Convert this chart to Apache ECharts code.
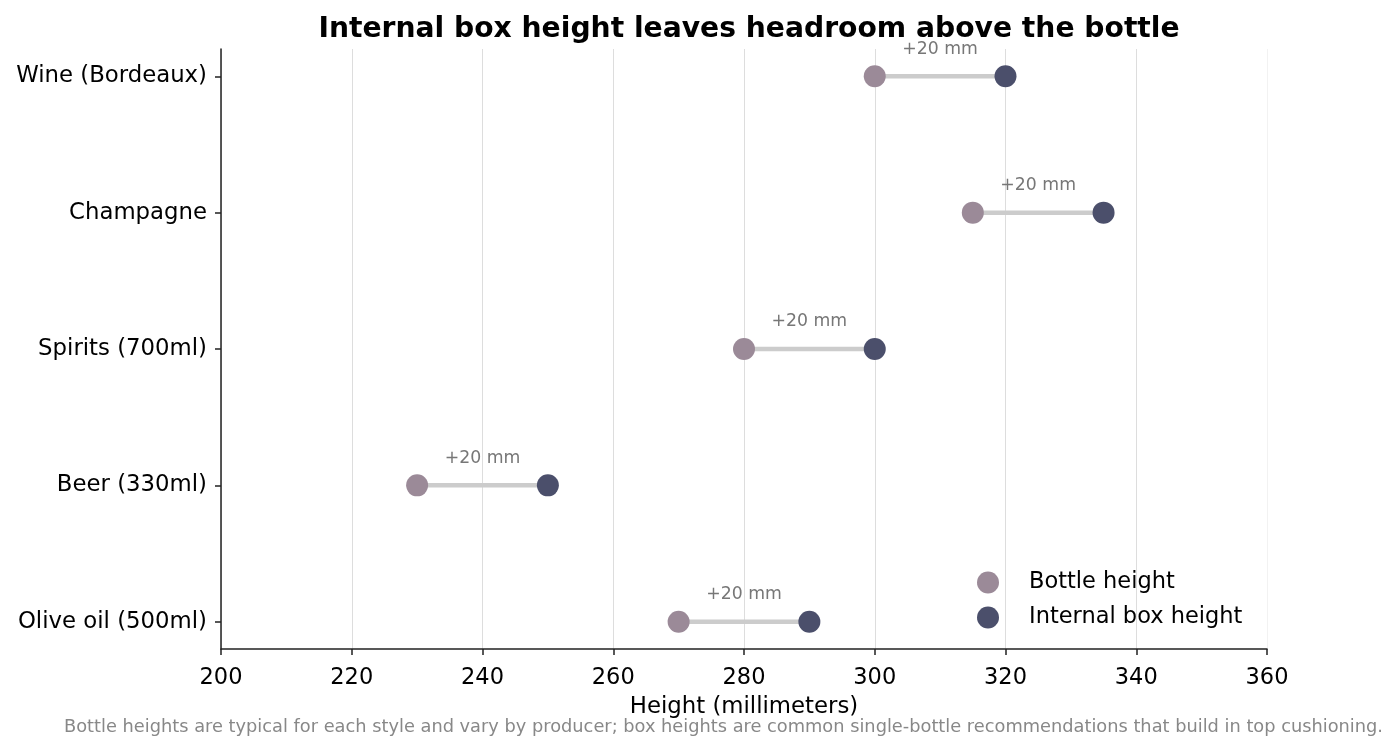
<!DOCTYPE html>
<html>
<head>
<meta charset="utf-8">
<script src="https://cdn.jsdelivr.net/npm/echarts@6/dist/echarts.min.js"></script>
<style>
  html, body { margin: 0; padding: 0; background: #fff; }
  #chart { width: 1399px; height: 750px; }
</style>
</head>
<body>
<div id="chart"></div>
<script>
// bottom to top, as they sit on the y axis
const categories = ['Olive oil (500ml)', 'Beer (330ml)', 'Spirits (700ml)', 'Champagne', 'Wine (Bordeaux)'];
const bottleHeight = [270, 230, 280, 315, 300];
const boxHeight = [290, 250, 300, 335, 320];
const xTicks = [200, 220, 240, 260, 280, 300, 320, 340, 360];

const FONT = 'DejaVu Sans';
const BOTTLE_COLOR = '#9b8a98';
const BOX_COLOR = '#4b4f6b';

function initDumbbellChart() {
    const chartDom = document.getElementById('chart');
    const chart = echarts.init(chartDom);

    const idx = categories.map((_, i) => i);
    const segData = categories.map((_, i) => [bottleHeight[i], boxHeight[i], i]);

    const option = {
        animation: false,
        textStyle: { fontFamily: FONT },
        title: [
            {
                text: 'Internal box height leaves headroom above the bottle',
                left: 744,
                top: 11,
                textAlign: 'center',
                textStyle: { fontFamily: FONT, fontSize: 28.2, fontWeight: 'bold', color: '#000' }
            },
            {
                text: 'Bottle heights are typical for each style and vary by producer; box heights are common single-bottle recommendations that build in top cushioning.',
                right: 16,
                top: 718,
                padding: 0,
                textStyle: { fontFamily: FONT, fontSize: 17.8, fontWeight: 'normal', color: '#888' }
            }
        ],
        legend: {
            orient: 'vertical',
            left: 977,
            top: 571,
            padding: 0,
            itemWidth: 22,
            itemHeight: 22,
            itemGap: 12,
            icon: 'circle',
            data: ['Bottle height', 'Internal box height'],
            textStyle: { fontFamily: FONT, fontSize: 22.5, color: '#000', lineHeight: 22, padding: [0, 0, 0, 25] }
        },
        grid: { left: 221, right: 132, top: 49, bottom: 101 },
        xAxis: {
            type: 'value',
            min: xTicks[0],
            max: xTicks[xTicks.length - 1],
            interval: 20,
            name: 'Height (millimeters)',
            nameLocation: 'middle',
            nameGap: 47,
            nameTextStyle: { fontFamily: FONT, fontSize: 22.8, color: '#000' },
            axisLine: { onZero: false, lineStyle: { color: '#222', width: 1.5 } },
            axisTick: { show: true, length: 6, lineStyle: { color: '#222', width: 1.5 } },
            axisLabel: { fontFamily: FONT, fontSize: 22.5, color: '#000', margin: 18 },
            splitLine: {
                show: true,
                lineStyle: {
                    color: ['#dddddd', '#dddddd', '#dddddd', '#dddddd', '#dddddd', '#dddddd', '#dddddd', '#dddddd', '#f2f2f2'],
                    width: 1
                }
            }
        },
        yAxis: {
            type: 'value',
            min: -0.2,
            max: 4.2,
            axisLine: { show: true, onZero: false, lineStyle: { color: '#222', width: 1.5 } },
            axisTick: { show: true, length: 6, customValues: idx, lineStyle: { color: '#222', width: 1.5 } },
            axisLabel: {
                fontFamily: FONT, fontSize: 22.8, color: '#000', margin: 14,
                customValues: idx,
                formatter: v => categories[Math.round(v)]
            },
            splitLine: { show: false }
        },
        series: [
            {
                name: 'segments',
                type: 'custom',
                data: segData,
                z: 1,
                renderItem: function (params, api) {
                    const a = api.coord([api.value(0), api.value(2)]);
                    const b = api.coord([api.value(1), api.value(2)]);
                    const diff = api.value(1) - api.value(0);
                    return {
                        type: 'group',
                        children: [
                            {
                                type: 'line',
                                shape: { x1: a[0], y1: a[1], x2: b[0], y2: b[1] },
                                style: { stroke: '#cccccc', lineWidth: 4.5 }
                            },
                            {
                                type: 'text',
                                style: {
                                    x: (a[0] + b[0]) / 2,
                                    y: a[1] - 27,
                                    text: '+' + diff + ' mm',
                                    fill: '#777',
                                    font: '17.3px "DejaVu Sans"',
                                    align: 'center',
                                    verticalAlign: 'middle'
                                }
                            }
                        ]
                    };
                }
            },
            {
                name: 'Bottle height',
                type: 'scatter',
                symbolSize: 22,
                z: 3,
                itemStyle: { color: BOTTLE_COLOR, opacity: 1 },
                data: bottleHeight.map((v, i) => [v, i])
            },
            {
                name: 'Internal box height',
                type: 'scatter',
                symbolSize: 22,
                z: 3,
                itemStyle: { color: BOX_COLOR, opacity: 1 },
                data: boxHeight.map((v, i) => [v, i])
            }
        ]
    };

    chart.setOption(option);
    window.addEventListener('resize', () => chart.resize());
}

document.addEventListener('DOMContentLoaded', function () {
    if (typeof echarts === 'undefined') {
        console.error('ECharts not loaded');
        return;
    }
    initDumbbellChart();
});
</script>
</body>
</html>
